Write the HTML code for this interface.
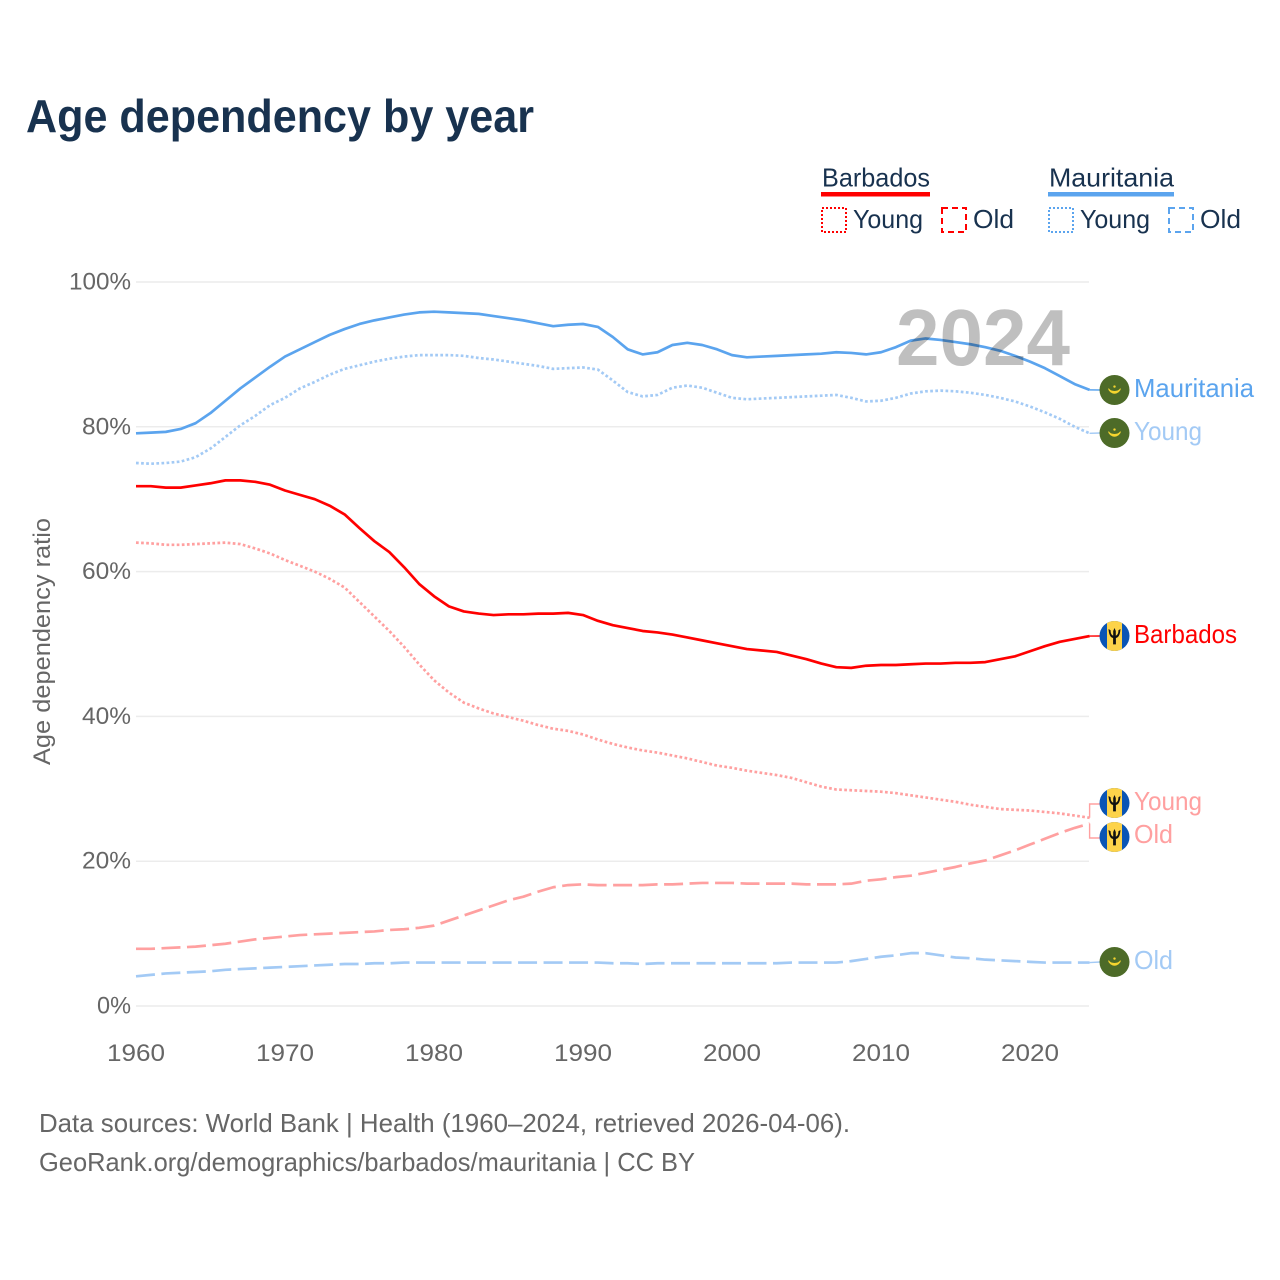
<!DOCTYPE html>
<html lang="en">
<head>
<meta charset="utf-8">
<title>Age dependency by year</title>
<style>
html,body{margin:0;padding:0;background:#fff;}
svg{display:block;font-family:"Liberation Sans",sans-serif;}
</style>
</head>
<body>
<svg id="chart" xmlns="http://www.w3.org/2000/svg" width="1280" height="1280" viewBox="0 0 1280 1280">
  <defs>
    <clipPath id="flag-clip"><circle cx="0" cy="0" r="15"/></clipPath>
    <g id="flag-mr">
      <circle cx="0" cy="0" r="15" fill="#4d6b28"/>
      <path d="M-6,-1.4 A6.2,6.2 0 0 0 6,-1.4 A6.6,4.8 0 0 1 -6,-1.4 Z" fill="#f5d42f" stroke="#f5d42f" stroke-width="0.9"/>
      <circle cx="0" cy="-3.4" r="1.2" fill="#f5d42f"/>
    </g>
    <g id="flag-bb">
      <g clip-path="url(#flag-clip)">
        <rect x="-15" y="-15" width="30" height="30" fill="#0a55b5"/>
        <rect x="-7.5" y="-15" width="15" height="30" fill="#fdd34a"/>
      </g>
      <path d="M-6,-7 C-5.6,-1.8 -4.4,1.4 -1.4,2 L-1.4,8.4 L1.4,8.4 L1.4,2 C4.4,1.4 5.6,-1.8 6,-7 L3.9,-5.8 C3.9,-2.6 3,-1 1.3,-0.4 L1.3,-5 L0,-8 L-1.3,-5 L-1.3,-0.4 C-3,-1 -3.9,-2.6 -3.9,-5.8 Z" fill="#111"/>
    </g>
  </defs>

  <rect x="0" y="0" width="1280" height="1280" fill="#ffffff"/>

  <text x="26" y="132" font-size="46" font-weight="700" fill="#18324f" textLength="508" lengthAdjust="spacingAndGlyphs">Age dependency by year</text>

  <g id="grid"></g>
  <g id="y-ticks"></g>
  <g id="x-ticks"></g>

  <text transform="translate(50,765) rotate(-90)" x="0" y="0" font-size="24" fill="#666666" textLength="247" lengthAdjust="spacingAndGlyphs">Age dependency ratio</text>

  <g id="series"></g>

  <text x="896" y="365" font-size="80" font-weight="700" fill="#000000" fill-opacity="0.25" textLength="174" lengthAdjust="spacingAndGlyphs">2024</text>

  <g>
    <g>
      <text x="822" y="186.500" font-size="26" fill="#18324f" textLength="108" lengthAdjust="spacingAndGlyphs">Barbados</text>
      <rect x="821" y="192" width="109" height="4.500" fill="#ff0000"/>
      <rect x="822" y="208" width="24" height="24" fill="none" stroke="#ff0000" stroke-width="2" stroke-dasharray="2 2"/>
      <text x="853" y="228" font-size="26" fill="#18324f" textLength="70" lengthAdjust="spacingAndGlyphs">Young</text>
      <rect x="942" y="208" width="24" height="24" fill="none" stroke="#ff0000" stroke-width="2" stroke-dasharray="6 4"/>
      <text x="973" y="228" font-size="26" fill="#18324f" textLength="41" lengthAdjust="spacingAndGlyphs">Old</text>
    </g>
    <g>
      <text x="1049" y="186.500" font-size="26" fill="#18324f" textLength="125" lengthAdjust="spacingAndGlyphs">Mauritania</text>
      <rect x="1048" y="192" width="126" height="4.500" fill="#5ba4ee"/>
      <rect x="1049" y="208" width="24" height="24" fill="none" stroke="#5ba4ee" stroke-width="2" stroke-dasharray="2 2"/>
      <text x="1080" y="228" font-size="26" fill="#18324f" textLength="70" lengthAdjust="spacingAndGlyphs">Young</text>
      <rect x="1169" y="208" width="24" height="24" fill="none" stroke="#5ba4ee" stroke-width="2" stroke-dasharray="6 4"/>
      <text x="1200" y="228" font-size="26" fill="#18324f" textLength="41" lengthAdjust="spacingAndGlyphs">Old</text>
    </g>
  </g>

  <g id="connectors"></g>

  <use href="#flag-mr" x="1114.5" y="390"/>
  <use href="#flag-mr" x="1114.5" y="433"/>
  <use href="#flag-bb" x="1114.5" y="636"/>
  <use href="#flag-bb" x="1114.5" y="803"/>
  <use href="#flag-bb" x="1114.5" y="837"/>
  <use href="#flag-mr" x="1114.5" y="962"/>

  <text x="1134" y="397" font-size="26" fill="#5ba4ee" textLength="120" lengthAdjust="spacingAndGlyphs">Mauritania</text>
  <text x="1134" y="440" font-size="26" fill="#a3caf5" textLength="68" lengthAdjust="spacingAndGlyphs">Young</text>
  <text x="1134" y="643" font-size="26" fill="#ff0000" textLength="103" lengthAdjust="spacingAndGlyphs">Barbados</text>
  <text x="1134" y="810" font-size="26" fill="#ffa0a0" textLength="68" lengthAdjust="spacingAndGlyphs">Young</text>
  <text x="1134" y="843" font-size="26" fill="#ffa0a0" textLength="39" lengthAdjust="spacingAndGlyphs">Old</text>
  <text x="1134" y="969" font-size="26" fill="#a3caf5" textLength="39" lengthAdjust="spacingAndGlyphs">Old</text>

  <text x="39" y="1132" font-size="26" fill="#666666" textLength="811" lengthAdjust="spacingAndGlyphs">Data sources: World Bank | Health (1960–2024, retrieved 2026-04-06).</text>
  <text x="39" y="1171" font-size="26" fill="#666666" textLength="656" lengthAdjust="spacingAndGlyphs">GeoRank.org/demographics/barbados/mauritania | CC BY</text>
</svg>

<script>
const startYear = 1960;
const yTicks = [0, 20, 40, 60, 80, 100];
const xTicks = [1960, 1970, 1980, 1990, 2000, 2010, 2020];

const mauritaniaTotal = [
  79.1,79.2,79.3,79.7,80.5,81.9,83.6,85.3,86.8,88.3,
  89.7,90.7,91.7,92.7,93.5,94.2,94.7,95.1,95.5,95.8,
  95.9,95.8,95.7,95.6,95.3,95.0,94.7,94.3,93.9,94.1,
  94.2,93.8,92.4,90.7,90.0,90.3,91.3,91.6,91.3,90.7,
  89.9,89.6,89.7,89.8,89.9,90.0,90.1,90.3,90.2,90.0,
  90.3,91.0,91.9,92.2,92.0,91.7,91.4,91.0,90.5,89.8,
  89.0,88.1,87.0,85.9,85.1];
const mauritaniaYoung = [
  75.0,74.9,75.0,75.2,75.8,77.0,78.6,80.2,81.5,83.0,
  84.0,85.3,86.2,87.2,88.0,88.5,89.0,89.4,89.7,89.9,
  89.9,89.9,89.8,89.5,89.3,89.0,88.7,88.4,88.0,88.1,
  88.2,87.9,86.4,84.8,84.2,84.4,85.4,85.7,85.4,84.7,
  84.0,83.8,83.9,84.0,84.1,84.2,84.3,84.4,84.0,83.5,
  83.6,84.0,84.6,84.9,85.0,84.9,84.7,84.4,84.0,83.5,
  82.8,82.0,81.1,80.0,79.1];
const mauritaniaOld = [
  4.1,4.3,4.5,4.6,4.7,4.8,5.0,5.1,5.2,5.3,
  5.4,5.5,5.6,5.7,5.8,5.8,5.9,5.9,6.0,6.0,
  6.0,6.0,6.0,6.0,6.0,6.0,6.0,6.0,6.0,6.0,
  6.0,6.0,5.9,5.9,5.8,5.9,5.9,5.9,5.9,5.9,
  5.9,5.9,5.9,5.9,6.0,6.0,6.0,6.0,6.2,6.5,
  6.8,7.0,7.3,7.3,7.0,6.7,6.6,6.4,6.3,6.2,
  6.1,6.0,6.0,6.0,6.0];
const barbadosTotal = [
  71.8,71.8,71.6,71.6,71.9,72.2,72.6,72.6,72.4,72.0,
  71.2,70.6,70.0,69.1,67.9,66.0,64.2,62.7,60.6,58.3,
  56.6,55.2,54.5,54.2,54.0,54.1,54.1,54.2,54.2,54.3,
  54.0,53.2,52.6,52.2,51.8,51.6,51.3,50.9,50.5,50.1,
  49.7,49.3,49.1,48.9,48.4,47.9,47.3,46.8,46.7,47.0,
  47.1,47.1,47.2,47.3,47.3,47.4,47.4,47.5,47.9,48.3,
  49.0,49.7,50.3,50.7,51.1];
const barbadosYoung = [
  64.0,63.9,63.7,63.7,63.8,63.9,64.0,63.8,63.2,62.5,
  61.6,60.8,60.0,59.0,57.8,55.8,53.8,51.8,49.6,47.2,
  45.0,43.3,41.9,41.1,40.4,39.9,39.4,38.8,38.3,38.0,
  37.5,36.8,36.2,35.7,35.3,35.0,34.6,34.2,33.7,33.2,
  32.9,32.5,32.2,31.9,31.5,30.9,30.3,29.9,29.8,29.7,
  29.6,29.4,29.1,28.8,28.5,28.2,27.8,27.5,27.2,27.1,
  27.0,26.8,26.6,26.3,26.0];
const barbadosOld = [
  7.9,7.9,8.0,8.1,8.2,8.4,8.6,8.9,9.2,9.4,
  9.6,9.8,9.9,10.0,10.1,10.2,10.3,10.5,10.6,10.8,
  11.1,11.8,12.5,13.2,13.9,14.6,15.1,15.8,16.4,16.7,
  16.8,16.7,16.7,16.7,16.7,16.8,16.8,16.9,17.0,17.0,
  17.0,16.9,16.9,16.9,16.9,16.8,16.8,16.8,16.9,17.3,
  17.5,17.8,18.0,18.4,18.8,19.2,19.7,20.1,20.8,21.5,
  22.3,23.1,23.9,24.6,25.2];

const NS = 'http://www.w3.org/2000/svg';
function xScale(year) { return 136 + (year - 1960) * 14.9; }
function yScale(v) { return 1006 - v * 7.24; }
function pathFor(values) {
  return values.map(function (v, i) {
    return (i ? 'L' : 'M') + xScale(startYear + i).toFixed(2) + ',' + yScale(v).toFixed(2);
  }).join(' ');
}

const grid = document.getElementById('grid');
const yTickGroup = document.getElementById('y-ticks');
const xTickGroup = document.getElementById('x-ticks');
const seriesGroup = document.getElementById('series');
const connectorGroup = document.getElementById('connectors');

yTicks.forEach(function (t) {
  const line = document.createElementNS(NS, 'line');
  
  
  line.setAttribute('x1', 136);
  line.setAttribute('x2', 1089);
  line.setAttribute('y1', yScale(t));
  line.setAttribute('y2', yScale(t));
  line.setAttribute('stroke', '#ececec');
  line.setAttribute('stroke-width', '1.5');
  grid.appendChild(line);

  const label = document.createElementNS(NS, 'text');
  
  
  const w = t === 100 ? 62 : (t === 0 ? 34 : 49);
  label.setAttribute('x', 131 - w);
  label.setAttribute('y', yScale(t) + 7.5);
  label.setAttribute('font-size', '24');
  label.setAttribute('fill', '#666666');
  label.setAttribute('textLength', w);
  label.setAttribute('lengthAdjust', 'spacingAndGlyphs');
  label.textContent = t + '%';
  yTickGroup.appendChild(label);
});

xTicks.forEach(function (t) {
  const label = document.createElementNS(NS, 'text');
  
  
  label.setAttribute('x', xScale(t) - 29);
  label.setAttribute('y', 1061);
  label.setAttribute('font-size', '24');
  label.setAttribute('fill', '#666666');
  label.setAttribute('textLength', 58);
  label.setAttribute('lengthAdjust', 'spacingAndGlyphs');
  label.textContent = t;
  xTickGroup.appendChild(label);
});

function drawSeries(name, values, color, dash) {
  const p = document.createElementNS(NS, 'path');
  
  
  p.setAttribute('d', pathFor(values));
  p.setAttribute('fill', 'none');
  p.setAttribute('stroke', color);
  p.setAttribute('stroke-width', '2.7');
  p.setAttribute('stroke-linejoin', 'round');
  if (dash) p.setAttribute('stroke-dasharray', dash);
  seriesGroup.appendChild(p);
}

drawSeries('line-mauritania-old', mauritaniaOld, '#a3caf5', '19 6.5');
drawSeries('line-barbados-old', barbadosOld, '#ffa0a0', '19 6.5');
drawSeries('line-barbados-young', barbadosYoung, '#ffa0a0', '2.7 2.4');
drawSeries('line-mauritania-young', mauritaniaYoung, '#a3caf5', '2.7 2.4');
drawSeries('line-barbados-total', barbadosTotal, '#ff0000', '');
drawSeries('line-mauritania-total', mauritaniaTotal, '#5ba4ee', '');

function drawConnector(name, values, color, labelY, elbow) {
  const x0 = xScale(startYear + values.length - 1);
  const y0 = yScale(values[values.length - 1]);
  const c = document.createElementNS(NS, 'path');
  
  
  c.setAttribute('d', elbow
    ? 'M' + x0 + ',' + y0 + ' L' + x0 + ',' + labelY + ' L1100,' + labelY
    : 'M' + x0 + ',' + y0 + ' L1100,' + labelY);
  c.setAttribute('fill', 'none');
  c.setAttribute('stroke', color);
  c.setAttribute('stroke-width', '1.4');
  connectorGroup.appendChild(c);
}

drawConnector('connector-mauritania-total', mauritaniaTotal, '#5ba4ee', 390, false);
drawConnector('connector-mauritania-young', mauritaniaYoung, '#a3caf5', 433, false);
drawConnector('connector-barbados-total', barbadosTotal, '#ff0000', 636, false);
drawConnector('connector-barbados-young', barbadosYoung, '#ffa0a0', 804, true);
drawConnector('connector-barbados-old', barbadosOld, '#ffa0a0', 838, true);
drawConnector('connector-mauritania-old', mauritaniaOld, '#a3caf5', 962, false);
</script>
</body>
</html>
